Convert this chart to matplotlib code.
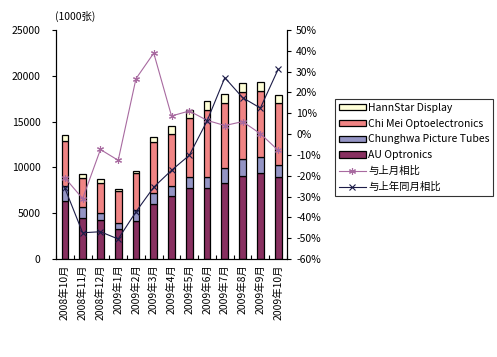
import matplotlib
matplotlib.use("Agg")
import matplotlib.pyplot as plt
import numpy as np
from matplotlib.ticker import FuncFormatter, MultipleLocator, FixedLocator

plt.rcParams["font.family"] = ["Noto Sans CJK SC", "DejaVu Sans"]

months = ["2008年10月", "2008年11月", "2008年12月", "2009年1月", "2009年2月",
          "2009年3月", "2009年4月", "2009年5月", "2009年6月", "2009年7月",
          "2009年8月", "2009年9月", "2009年10月"]

# shipments, 1000 units
auo = [6360, 4480, 4260, 3300, 4100, 5950, 6880, 7720, 7720, 8330, 9060, 9350, 8990]
cpt = [1600, 1200, 800, 600, 1200, 1280, 1090, 1200, 1270, 1570, 1860, 1750, 1240]
cmo = [4900, 3200, 3200, 3560, 4050, 5500, 5680, 6440, 7280, 7160, 7280, 7270, 6830]
hannstar = [700, 450, 470, 220, 270, 600, 900, 910, 1010, 920, 980, 920, 810]

# growth rates, %
mom = [-21, -31, -7.4, -12.6, 26.6, 38.9, 8.7, 11.1, 6.6, 4.1, 6.0, 0.2, -7.8]
yoy = [-26, -47.4, -46.9, -50.4, -37.3, -25.5, -17.4, -10.2, 6.3, 27.1, 17.5, 12.5, 31.1]

COLORS = {
    "HannStar Display": "#FFFFD8",
    "Chi Mei Optoelectronics": "#F08484",
    "Chunghwa Picture Tubes": "#9494C4",
    "AU Optronics": "#883060",
}

fig = plt.figure(figsize=(4.97, 3.57), dpi=100)
ax = fig.add_axes([0.1127, 0.2745, 0.4648, 0.6415])
x = np.arange(len(months))
w = 0.38

bottom = np.zeros(len(months))
stack = [("AU Optronics", auo), ("Chunghwa Picture Tubes", cpt),
         ("Chi Mei Optoelectronics", cmo), ("HannStar Display", hannstar)]
bars = {}
for name, vals in stack:
    bars[name] = ax.bar(x, vals, w, bottom=bottom, color=COLORS[name],
                        edgecolor="black", linewidth=0.9, zorder=2)
    bottom += np.array(vals)

ax.set_xlim(-0.5, len(months) - 0.5)
ax.set_ylim(0, 25000)
ax.yaxis.set_major_locator(MultipleLocator(5000))
ax.tick_params(axis="y", labelsize=7.5, length=3, width=0.8, pad=8)
ax.set_xticks(x)
ax.set_xticklabels(months, rotation=90, fontsize=7.5)
ax.tick_params(axis="x", length=0, pad=4)
ax.xaxis.set_minor_locator(FixedLocator(np.arange(-0.5, len(months), 1.0)))
ax.tick_params(axis="x", which="minor", direction="in", length=3, width=0.8)
ax.spines["top"].set_visible(False)
for s in ("left", "bottom"):
    ax.spines[s].set_linewidth(0.8)

ax2 = ax.twinx()
ax2.set_ylim(-60, 50)
ax2.yaxis.set_major_locator(MultipleLocator(10))
ax2.yaxis.set_major_formatter(FuncFormatter(lambda v, p: f"{v:.0f}%"))
ax2.tick_params(axis="y", labelsize=7.5, length=3, width=0.8)
ax2.spines["top"].set_visible(False)
ax2.spines["right"].set_linewidth(0.8)
l1, = ax2.plot(x, mom, color="#A86AA0", linewidth=0.8, marker=(6, 2, 0),
               markersize=5, markeredgewidth=0.8, label="与上月相比")
l2, = ax2.plot(x, yoy, color="#1C1C48", linewidth=0.8, marker="x",
               markersize=4, markeredgewidth=0.8, label="与上年同月相比")

fig.text(0.111, 0.955, "(1000张)", fontsize=7.5, ha="left", va="center")

handles = [bars["HannStar Display"], bars["Chi Mei Optoelectronics"],
           bars["Chunghwa Picture Tubes"], bars["AU Optronics"], l1, l2]
labels = ["HannStar Display", "Chi Mei Optoelectronics",
          "Chunghwa Picture Tubes", "AU Optronics", "与上月相比", "与上年同月相比"]
leg = fig.legend(handles, labels, loc="upper left", bbox_to_anchor=(0.674, 0.722),
                 fontsize=7.5, frameon=True, fancybox=False, handlelength=2.6,
                 handleheight=0.55, labelspacing=0.55, borderpad=0.35,
                 handletextpad=0.25, borderaxespad=0)
leg.get_frame().set_edgecolor("black")
leg.get_frame().set_linewidth(0.8)

fig.savefig("out.png", dpi=100)
